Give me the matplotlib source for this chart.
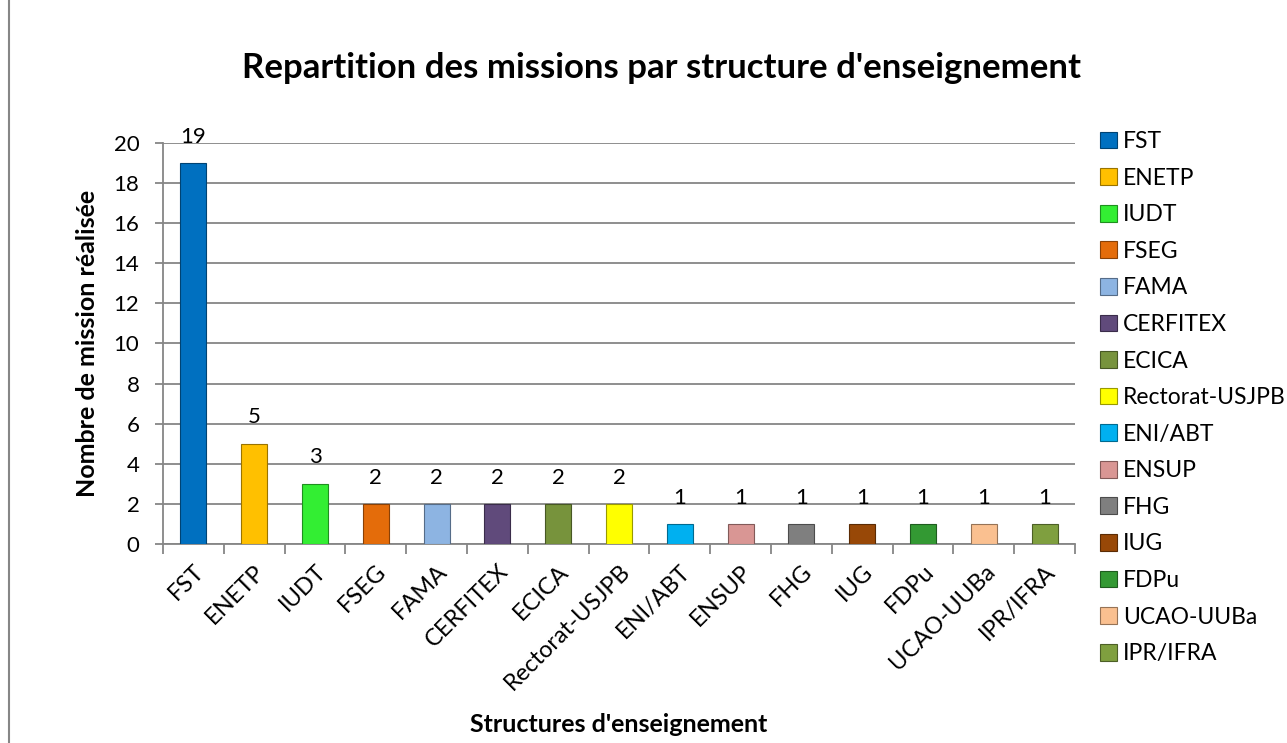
import matplotlib.pyplot as plt
from matplotlib.patches import Rectangle, Patch
import matplotlib.colors as mcolors

structures = ['FST', 'ENETP', 'IUDT', 'FSEG', 'FAMA', 'CERFITEX', 'ECICA',
              'Rectorat-USJPB', 'ENI/ABT', 'ENSUP', 'FHG', 'IUG', 'FDPu',
              'UCAO-UUBa', 'IPR/IFRA']
missions = [19, 5, 3, 2, 2, 2, 2, 2, 1, 1, 1, 1, 1, 1, 1]
couleurs = ['#0070C0', '#FFC000', '#33EE33', '#E46C0A', '#8DB4E2', '#604A7B',
            '#77933C', '#FFFF00', '#00B0F0', '#D99694', '#7F7F7F', '#984807',
            '#339933', '#FAC090', '#7F9F3F']

plt.rcParams['font.family'] = ['Lato', 'DejaVu Sans']

fig = plt.figure(figsize=(12.87, 7.43), dpi=100)
ax = fig.add_axes([163 / 1287, 1 - 544 / 743, (1075 - 163) / 1287, 401 / 743])

# cadre du graphique
fig.patches.append(Rectangle((9 / 1287, -0.05), 1.1, 1.05 + 1 - 12.5 / 743,
                             transform=fig.transFigure, fill=False,
                             edgecolor='#868686', linewidth=1.5))

x = range(len(structures))
bords = [mcolors.to_hex([c * 0.6 for c in mcolors.to_rgb(col)]) for col in couleurs]
ax.bar(x, missions, width=0.43, color=couleurs, edgecolor=bords, linewidth=0.8, zorder=3)

for i, v in enumerate(missions):
    ax.annotate(str(v), (i, v), xytext=(0, 19), textcoords='offset points',
                ha='center', va='center', fontsize=16)

ax.set_xlim(-0.5, len(structures) - 0.5)
ax.set_ylim(0, 20)
ax.set_yticks(range(0, 21, 2))
ax.yaxis.grid(True, color='#868686', linewidth=1.3, zorder=0)
ax.tick_params(axis='y', labelsize=16, length=6, width=1.3, color='#868686', pad=11)

ax.set_xticks(list(x))
ax.set_xticklabels(structures, rotation=45, ha='right', rotation_mode='anchor', fontsize=17)
ax.tick_params(axis='x', which='major', length=0, pad=12)
ax.set_xticks([i + 0.5 for i in range(-1, len(structures))], minor=True)
ax.tick_params(axis='x', which='minor', length=7, width=1.3, color='#868686')

for s in ['top', 'right']:
    ax.spines[s].set_visible(False)
for s in ['left', 'bottom']:
    ax.spines[s].set_color('#868686')
    ax.spines[s].set_linewidth(1.3)

ax.set_ylabel('Nombre de mission réalisée', fontsize=18, fontweight='bold')
ax.yaxis.set_label_coords((88 - 163) / 912, 0.5)
ax.yaxis.label.set_va('center')
ax.set_xlabel("Structures d'enseignement", fontsize=18, fontweight='bold')
ax.xaxis.set_label_coords(0.5, -(724 - 544) / 401)
ax.xaxis.label.set_va('center')
fig.text(661 / 1287, 1 - 68 / 743, "Repartition des missions par structure d'enseignement",
         ha='center', va='center', fontsize=25, fontweight='bold')

poignees = [Patch(facecolor=c, edgecolor=b, linewidth=0.8) for c, b in zip(couleurs, bords)]
fig.legend(poignees, structures, loc='upper left', bbox_to_anchor=(1100 / 1287, 1 - 131 / 743),
           frameon=False, fontsize=16.5, handlelength=0.75, handleheight=0.75,
           handletextpad=0.25, labelspacing=0.68, borderaxespad=0, borderpad=0)

fig.savefig('out.png', dpi=100)
